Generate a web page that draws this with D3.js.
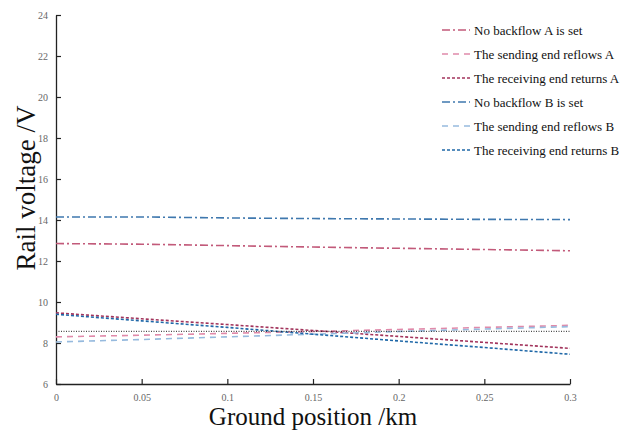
<!DOCTYPE html>
<html>
<head>
<meta charset="utf-8">
<script src="https://cdn.jsdelivr.net/npm/d3@7"></script>
<style>
  html, body { margin: 0; padding: 0; background: #fff; }
  svg { display: block; }
</style>
</head>
<body>
<svg id="chart" width="621" height="437"></svg>
<script>
const positions = [0, 0.05, 0.1, 0.15, 0.2, 0.25, 0.3];
const noBackflowA = [12.85, 12.82, 12.75, 12.68, 12.62, 12.56, 12.5];
const sendingA    = [8.3, 8.38, 8.47, 8.56, 8.66, 8.76, 8.86];
const receivingA  = [9.47, 9.18, 8.9, 8.61, 8.32, 8.03, 7.74];
const noBackflowB = [14.15, 14.15, 14.1, 14.07, 14.05, 14.03, 14.02];
const sendingB    = [8.05, 8.17, 8.3, 8.43, 8.56, 8.68, 8.8];
const receivingB  = [9.4, 9.08, 8.76, 8.43, 8.1, 7.78, 7.45];
const referenceLevel = [8.57, 8.57, 8.57, 8.57, 8.57, 8.57, 8.57];
const xTicks = [0, 0.05, 0.1, 0.15, 0.2, 0.25, 0.3];
const yTicks = [6, 8, 10, 12, 14, 16, 18, 20, 22, 24];
const seriesNames = [
  "No backflow A is set",
  "The sending end reflows A",
  "The receiving end returns A",
  "No backflow B is set",
  "The sending end reflows B",
  "The receiving end returns B"
];

const series = [
  { name: seriesNames[0], values: noBackflowA, color: "#c25a7a", dash: "8,3,2,3", legend: true },
  { name: seriesNames[1], values: sendingA,    color: "#e08aaa", dash: "6,5",     legend: true },
  { name: seriesNames[2], values: receivingA,  color: "#a2345c", dash: "3,2",     legend: true },
  { name: seriesNames[3], values: noBackflowB, color: "#3f78ae", dash: "8,3,2,3", legend: true },
  { name: seriesNames[4], values: sendingB,    color: "#96bade", dash: "6,5",     legend: true },
  { name: seriesNames[5], values: receivingB,  color: "#1f68a8", dash: "3,2",     legend: true },
  { name: "reference", values: referenceLevel, color: "#222", dash: "1,1.5", legend: false, width: 1 }
];

const svg = d3.select("#chart");
const margin = { left: 56, right: 51, top: 15, bottom: 53 };
const W = 621, H = 437;
const x = d3.scaleLinear().domain([0, 0.3]).range([margin.left, W - margin.right]);
const y = d3.scaleLinear().domain([6, 24]).range([H - margin.bottom, margin.top]);

const serif = "'Liberation Serif', 'Times New Roman', Times, serif";

// Axes
const xAxis = svg.append("g")
  .attr("transform", `translate(0,${y(6)})`)
  .call(d3.axisBottom(x).tickValues(xTicks).tickSizeInner(-5).tickSizeOuter(0).tickPadding(10)
    .tickFormat(d => d3.format("~g")(d)));
const yAxis = svg.append("g")
  .attr("transform", `translate(${x(0)},0)`)
  .call(d3.axisLeft(y).tickValues(yTicks).tickSizeInner(-5).tickSizeOuter(0).tickPadding(8));

[xAxis, yAxis].forEach(g => {
  g.select(".domain").attr("stroke", "#222").attr("stroke-width", 1.3);
  g.selectAll(".tick line").attr("stroke", "#222").attr("stroke-width", 1.2);
  g.selectAll(".tick text").attr("fill", "#666").attr("font-family", serif).attr("font-size", 10);
});
yAxis.selectAll(".tick text").attr("dy", "0.32em");

// Lines
const line = d3.line().x((d, i) => x(positions[i])).y(d => y(d));
series.forEach(s => {
  svg.append("path")
    .datum(s.values)
    .attr("d", line)
    .attr("fill", "none")
    .attr("stroke", s.color)
    .attr("stroke-width", s.width || 1.6)
    .attr("stroke-dasharray", s.dash);
});

// Legend
const legend = svg.append("g").attr("transform", "translate(442,30)");
series.filter(s => s.legend).forEach((s, i) => {
  const g = legend.append("g").attr("transform", `translate(0,${i * 24})`);
  g.append("line").attr("x1", 0).attr("x2", 28).attr("y1", 0).attr("y2", 0)
    .attr("stroke", s.color).attr("stroke-width", 1.6).attr("stroke-dasharray", s.dash);
  g.append("text").attr("x", 32).attr("y", 0).attr("dy", "0.35em")
    .attr("font-family", serif).attr("font-size", 13).attr("fill", "#111")
    .text(s.name);
});

// Axis titles
svg.append("text")
  .attr("x", (x(0) + x(0.3)) / 2).attr("y", 425)
  .attr("text-anchor", "middle")
  .attr("font-family", serif).attr("font-size", 25).attr("fill", "#111")
  .text("Ground position /km");
svg.append("text")
  .attr("transform", "translate(35,188) rotate(-90)")
  .attr("text-anchor", "middle")
  .attr("font-family", serif).attr("font-size", 27).attr("fill", "#111")
  .text("Rail voltage /V");
</script>
</body>
</html>
